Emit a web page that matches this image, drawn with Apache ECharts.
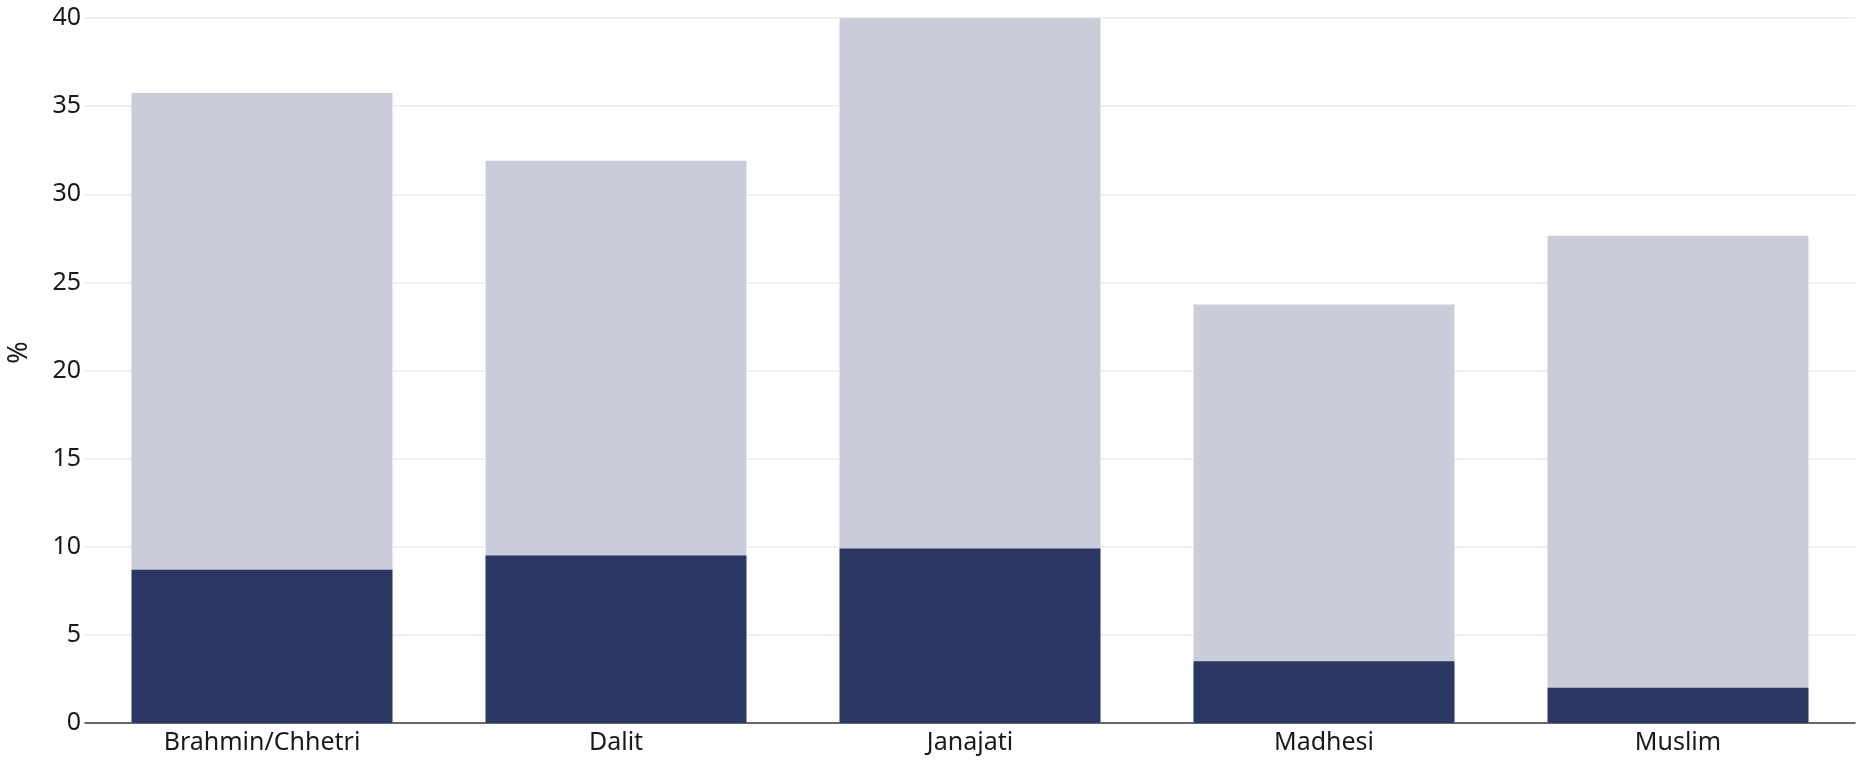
<!DOCTYPE html>
<html>
<head>
<meta charset="utf-8">
<script src="https://cdn.jsdelivr.net/npm/echarts@6/dist/echarts.min.js"></script>
<style>
html,body{margin:0;padding:0;background:#fff;}
#chart{width:1856px;height:760px;}
</style>
</head>
<body>
<div id="chart"></div>
<script>
var categories = ['Brahmin/Chhetri', 'Dalit', 'Janajati', 'Madhesi', 'Muslim'];
var totalValues = [35.75, 31.9, 40, 23.75, 27.65];
var subValues = [8.7, 9.5, 9.9, 3.5, 2.0];
var yTicks = [0, 5, 10, 15, 20, 25, 30, 35, 40];

var chart = echarts.init(document.getElementById('chart'));
var font = '"Noto Sans", sans-serif';
chart.setOption({
  animation: false,
  grid: {left: 85, right: 1, top: 18, bottom: 37, containLabel: false, outerBoundsMode: 'none'},
  xAxis: {
    type: 'category',
    data: categories,
    axisLine: {lineStyle: {color: '#3a3a3a', width: 1.5}},
    axisTick: {show: false},
    axisLabel: {color: '#1a1a1a', fontSize: 25, fontFamily: font, margin: 7}
  },
  yAxis: {
    type: 'value',
    min: yTicks[0],
    max: yTicks[yTicks.length - 1],
    interval: 5,
    name: '%',
    nameLocation: 'middle',
    nameGap: 52,
    nameRotate: 90,
    nameTextStyle: {color: '#1a1a1a', fontSize: 27, fontFamily: font, padding: [0, 0, 0, 36]},
    axisLine: {show: false},
    axisTick: {show: false},
    axisLabel: {color: '#1a1a1a', fontSize: 25, fontFamily: font, margin: 4},
    splitLine: {lineStyle: {color: '#ebebeb', width: 1.5}}
  },
  series: [
    {
      type: 'bar',
      data: totalValues,
      barWidth: '73.7%',
      barGap: '-100%',
      itemStyle: {color: '#cacdd9'},
      z: 2
    },
    {
      type: 'bar',
      data: subValues,
      barWidth: '73.7%',
      barGap: '-100%',
      itemStyle: {color: '#2b3763'},
      z: 3
    }
  ]
});
</script>
</body>
</html>
